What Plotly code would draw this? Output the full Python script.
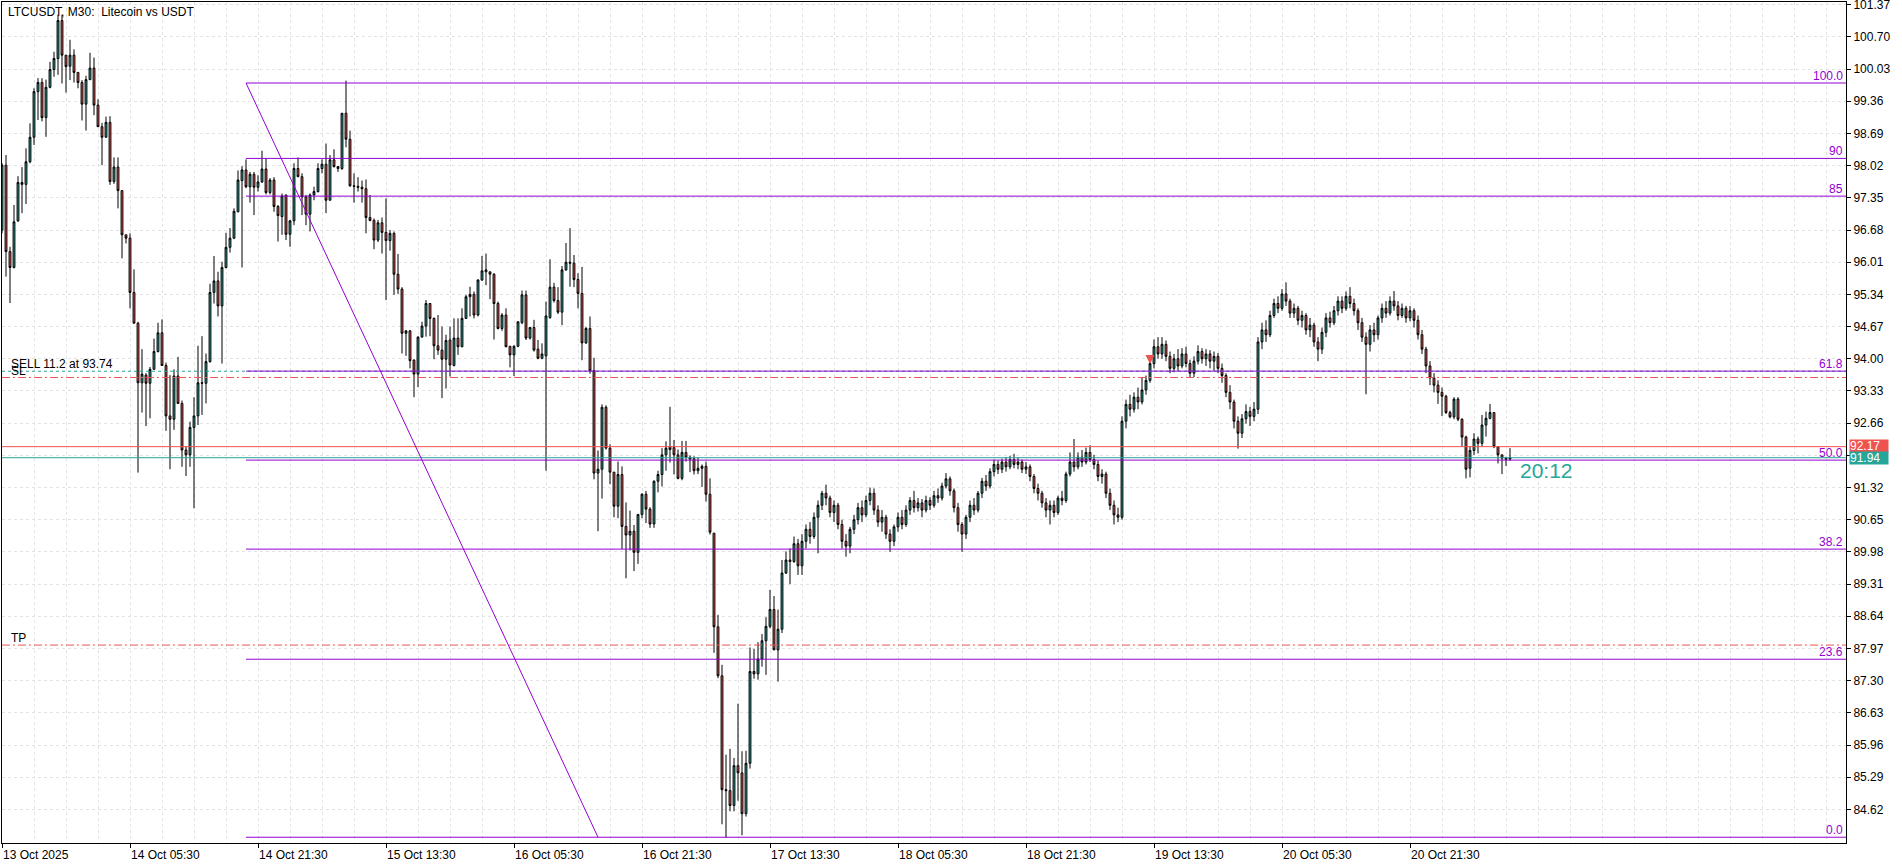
import plotly.graph_objects as go

# ---------------- data (M30 candles, bar index from 13 Oct 13:30) ----------------
opens = [96.68, 98.03, 96.23, 95.90, 96.87, 97.67, 97.63, 98.10, 98.61, 99.56,
         99.75, 99.02, 99.65, 100.02, 100.25, 101.04, 100.32, 100.09, 100.32, 99.96,
         99.75, 99.30, 99.81, 100.05, 99.28, 98.83, 98.61, 98.92, 97.69, 97.99,
         97.50, 96.58, 96.51, 95.38, 94.74, 93.50, 93.66, 93.49, 93.78, 94.15,
         94.54, 93.86, 92.81, 92.74, 93.64, 93.07, 92.10, 92.00, 92.57, 92.81,
         93.50, 93.49, 93.94, 95.38, 95.62, 95.10, 95.90, 96.32, 96.51, 97.06,
         97.71, 97.93, 97.58, 97.84, 97.57, 97.68, 97.95, 97.46, 97.72, 97.17,
         96.96, 97.41, 96.59, 96.87, 97.96, 97.79, 97.37, 97.01, 97.41, 97.48,
         97.96, 98.05, 97.30, 98.14, 98.00, 97.96, 99.11, 98.57, 97.60, 97.59,
         97.57, 97.54, 96.94, 96.88, 96.47, 96.83, 96.63, 96.46, 96.61, 95.76,
         95.45, 94.53, 94.58, 93.97, 93.68, 94.45, 94.68, 95.15, 94.84, 94.27,
         94.18, 93.99, 94.39, 93.86, 94.43, 94.25, 94.84, 95.29, 95.34, 94.91,
         95.64, 95.85, 95.81, 95.76, 95.15, 94.63, 94.91, 94.26, 94.08, 94.26,
         94.75, 95.33, 94.43, 94.65, 94.20, 94.01, 94.06, 94.86, 95.49, 95.21,
         94.97, 95.85, 96.01, 95.99, 95.65, 95.36, 94.33, 94.63, 93.75, 91.62,
         91.70, 92.99, 92.14, 91.64, 90.93, 91.59, 90.51, 90.33, 90.41, 89.97,
         90.76, 91.18, 90.87, 90.56, 91.45, 91.59, 92.00, 92.17, 92.15, 92.00,
         91.51, 92.05, 91.95, 91.92, 91.67, 91.72, 91.76, 91.18, 90.37, 88.42,
         87.40, 85.03, 85.01, 84.70, 85.53, 85.38, 84.53, 85.58, 87.49, 87.44,
         87.75, 88.13, 88.43, 88.78, 87.94, 88.37, 89.54, 89.81, 89.78, 90.15,
         89.69, 90.20, 90.45, 90.30, 90.70, 90.95, 91.20, 91.10, 90.80, 90.95,
         90.55, 90.20, 90.10, 90.45, 90.65, 90.90, 90.75, 91.05, 91.20, 90.85,
         90.60, 90.70, 90.35, 90.20, 90.50, 90.70, 90.55, 90.85, 91.05, 90.90,
         91.00, 90.85, 91.05, 90.95, 91.15, 91.10, 91.35, 91.50, 91.25, 90.90,
         90.55, 90.35, 90.70, 90.95, 90.85, 91.20, 91.45, 91.35, 91.65, 91.80,
         91.70, 91.85, 91.75, 91.90, 91.80, 91.85, 91.70, 91.75, 91.55, 91.30,
         91.20, 91.00, 90.85, 90.95, 90.80, 91.10, 91.05, 91.60, 91.85, 91.75,
         91.95, 91.85, 92.05, 91.90, 91.80, 91.55, 91.60, 91.20, 90.95, 90.75,
         90.70, 92.70, 93.05, 92.95, 93.20, 93.10, 93.35, 93.55, 93.90, 94.25,
         94.10, 94.30, 94.05, 93.80, 94.00, 93.85, 94.10, 93.90, 93.70, 93.95,
         94.15, 94.00, 94.10, 93.95, 94.05, 93.80, 93.65, 93.30, 93.10, 92.70,
         92.45, 92.75, 92.90, 92.80, 92.95, 94.35, 94.60, 94.50, 94.90, 95.15,
         95.05, 95.35, 95.20, 94.95, 95.05, 94.80, 94.90, 94.60, 94.70, 94.35,
         94.20, 94.55, 94.85, 94.75, 95.00, 95.20, 95.05, 95.30, 95.15, 95.00,
         94.75, 94.45, 94.30, 94.60, 94.50, 94.85, 95.05, 94.95, 95.20, 95.10,
         94.90, 95.05, 94.85, 95.00, 94.80, 94.50, 94.20, 93.85, 93.60, 93.45,
         93.30, 93.22, 92.88, 92.79, 93.16, 92.74, 92.37, 91.72, 92.09, 92.33,
         92.24, 92.62, 92.76, 92.88, 92.17, 92.00, 91.93, 91.91]

highs = [98.07, 98.24, 96.33, 97.20, 97.80, 97.99, 98.38, 98.90, 99.63, 99.84,
         99.84, 99.81, 100.18, 100.39, 101.16, 101.16, 100.32, 100.64, 100.44, 99.96,
         99.80, 99.89, 100.37, 100.27, 99.40, 98.91, 99.04, 99.05, 98.19, 98.19,
         97.50, 96.58, 96.61, 95.86, 94.77, 94.20, 93.70, 93.83, 94.42, 94.75,
         94.82, 93.92, 93.66, 93.78, 94.04, 93.13, 92.17, 92.69, 93.20, 94.27,
         94.47, 94.11, 95.56, 96.14, 95.81, 96.02, 96.62, 96.72, 97.13, 97.92,
         98.01, 98.15, 97.89, 97.89, 97.82, 98.33, 98.17, 97.76, 97.78, 97.20,
         97.44, 97.41, 96.89, 98.07, 98.19, 97.86, 97.41, 97.44, 97.58, 98.07,
         98.15, 98.48, 98.24, 98.36, 98.01, 99.11, 99.79, 98.75, 97.86, 97.78,
         97.71, 97.73, 97.41, 96.92, 96.89, 96.94, 97.34, 96.68, 96.65, 96.18,
         95.49, 94.60, 94.60, 93.99, 94.47, 94.77, 95.22, 95.15, 94.86, 94.91,
         94.67, 94.50, 94.67, 94.84, 94.84, 95.05, 95.33, 95.50, 95.40, 95.65,
         96.14, 96.19, 95.81, 95.78, 95.19, 94.95, 95.05, 94.26, 94.28, 94.77,
         95.42, 95.42, 94.65, 94.81, 94.39, 94.32, 95.19, 96.07, 95.58, 95.49,
         95.93, 96.41, 96.72, 96.16, 95.78, 95.91, 94.66, 94.88, 94.02, 92.09,
         93.05, 93.03, 92.22, 91.64, 91.86, 91.76, 91.01, 90.84, 90.54, 90.76,
         91.20, 91.25, 90.91, 91.47, 91.67, 92.14, 92.28, 93.00, 92.31, 92.11,
         92.29, 92.29, 91.99, 91.97, 91.95, 91.80, 91.86, 91.51, 90.37, 88.67,
         87.63, 85.76, 85.88, 85.69, 86.82, 85.83, 85.84, 87.99, 87.96, 88.10,
         88.27, 88.62, 89.19, 89.06, 88.78, 89.81, 89.99, 90.05, 90.30, 90.25,
         90.35, 90.55, 90.60, 90.80, 91.05, 91.25, 91.38, 91.15, 91.05, 91.00,
         90.65, 90.35, 90.50, 90.75, 91.00, 91.05, 91.15, 91.32, 91.30, 90.95,
         90.85, 90.75, 90.45, 90.55, 90.80, 90.85, 90.95, 91.12, 91.25, 91.10,
         91.08, 91.15, 91.12, 91.25, 91.30, 91.42, 91.62, 91.55, 91.30, 91.00,
         90.60, 90.75, 91.05, 91.10, 91.25, 91.52, 91.58, 91.72, 91.90, 91.88,
         91.92, 91.95, 91.98, 92.02, 91.95, 91.90, 91.85, 91.80, 91.60, 91.40,
         91.25, 91.10, 91.05, 91.05, 91.15, 91.25, 91.65, 92.05, 92.33, 92.05,
         92.10, 92.15, 92.20, 92.00, 91.88, 91.70, 91.65, 91.30, 91.05, 90.90,
         92.80, 93.15, 93.25, 93.30, 93.40, 93.60, 93.65, 94.00, 94.40, 94.45,
         94.45, 94.38, 94.15, 94.10, 94.20, 94.22, 94.25, 93.98, 94.05, 94.28,
         94.22, 94.20, 94.18, 94.15, 94.12, 93.90, 93.70, 93.45, 93.15, 92.80,
         92.85, 93.05, 93.00, 93.10, 94.45, 94.75, 94.80, 95.00, 95.25, 95.30,
         95.45, 95.59, 95.25, 95.15, 95.10, 95.00, 94.95, 94.85, 94.75, 94.45,
         94.65, 94.95, 94.98, 95.10, 95.30, 95.30, 95.40, 95.49, 95.25, 95.05,
         94.85, 94.55, 94.70, 94.75, 94.90, 95.15, 95.20, 95.30, 95.41, 95.20,
         95.15, 95.10, 95.10, 95.05, 94.90, 94.60, 94.25, 93.95, 93.70, 93.55,
         93.40, 93.25, 92.92, 93.20, 93.20, 92.76, 92.40, 92.17, 92.45, 92.38,
         92.83, 92.90, 93.06, 92.88, 92.17, 92.00, 91.96, 92.14]

lows = [96.61, 95.71, 95.16, 95.88, 96.85, 97.03, 97.22, 98.07, 98.45, 98.97,
        98.94, 98.62, 99.63, 99.87, 99.91, 99.73, 99.54, 99.80, 99.75, 99.63,
        98.96, 98.75, 99.80, 99.07, 98.83, 98.03, 98.61, 97.62, 97.64, 97.13,
        96.09, 96.40, 95.05, 94.74, 91.63, 92.88, 92.60, 92.76, 93.78, 94.13,
        93.86, 92.50, 91.70, 92.52, 93.06, 91.75, 91.56, 91.75, 90.89, 92.62,
        92.83, 93.07, 93.92, 95.15, 94.88, 93.90, 95.88, 96.21, 96.49, 97.05,
        95.90, 97.55, 97.25, 96.99, 97.48, 97.66, 97.42, 97.42, 97.06, 96.44,
        96.58, 96.47, 96.33, 96.78, 97.78, 96.99, 96.78, 96.65, 97.30, 97.46,
        97.86, 97.03, 97.30, 97.98, 97.89, 97.93, 98.40, 97.58, 97.25, 97.48,
        97.25, 96.61, 96.86, 96.28, 96.43, 96.19, 95.22, 96.25, 95.33, 95.35,
        94.11, 94.06, 93.80, 93.20, 93.41, 94.45, 94.46, 94.47, 93.99, 94.08,
        93.18, 93.38, 93.63, 93.84, 94.08, 94.24, 94.83, 94.88, 94.84, 94.88,
        95.62, 95.53, 95.24, 94.40, 94.61, 94.58, 94.24, 93.82, 93.64, 94.24,
        94.72, 94.39, 94.40, 94.15, 93.99, 93.99, 91.67, 94.83, 95.17, 94.93,
        94.70, 95.83, 95.50, 95.49, 95.05, 93.97, 94.31, 93.69, 91.49, 90.41,
        91.09, 92.11, 91.39, 90.70, 90.68, 90.04, 89.43, 90.01, 89.58, 89.73,
        90.68, 90.58, 90.48, 90.48, 91.22, 91.34, 91.67, 91.84, 91.59, 91.49,
        91.47, 91.86, 91.64, 91.59, 91.60, 91.33, 91.03, 90.34, 87.88, 87.35,
        84.31, 84.03, 84.58, 84.58, 84.80, 84.08, 84.47, 85.47, 87.34, 87.32,
        87.59, 87.42, 88.39, 87.94, 87.28, 88.29, 89.52, 89.31, 89.75, 89.50,
        89.50, 90.05, 90.15, 90.25, 89.95, 90.85, 90.95, 90.70, 90.60, 90.45,
        90.05, 89.88, 89.95, 90.35, 90.55, 90.60, 90.70, 90.95, 90.75, 90.50,
        90.40, 90.25, 89.98, 90.10, 90.40, 90.45, 90.50, 90.75, 90.80, 90.82,
        90.70, 90.80, 90.85, 90.90, 91.00, 91.05, 91.30, 91.15, 90.80, 90.40,
        89.98, 90.25, 90.60, 90.75, 90.80, 91.10, 91.25, 91.30, 91.55, 91.60,
        91.62, 91.65, 91.70, 91.72, 91.70, 91.62, 91.60, 91.45, 91.20, 91.05,
        90.90, 90.70, 90.55, 90.70, 90.75, 90.95, 91.00, 91.55, 91.65, 91.70,
        91.75, 91.80, 91.85, 91.70, 91.45, 91.40, 91.10, 90.85, 90.55, 90.60,
        90.65, 92.55, 92.80, 92.88, 92.95, 93.05, 93.25, 93.50, 93.80, 94.00,
        94.00, 93.95, 93.70, 93.72, 93.75, 93.80, 93.82, 93.60, 93.62, 93.88,
        93.90, 93.85, 93.80, 93.75, 93.70, 93.50, 93.20, 92.95, 92.55, 92.13,
        92.35, 92.65, 92.60, 92.70, 92.85, 94.20, 94.35, 94.45, 94.85, 94.95,
        95.00, 95.10, 94.85, 94.85, 94.70, 94.65, 94.50, 94.45, 94.25, 93.95,
        94.10, 94.45, 94.65, 94.70, 94.90, 94.95, 95.00, 95.05, 94.90, 94.60,
        94.35, 93.26, 94.15, 94.35, 94.40, 94.75, 94.85, 94.90, 95.00, 94.80,
        94.85, 94.75, 94.78, 94.65, 94.40, 94.10, 93.70, 93.45, 93.30, 93.06,
        92.81, 92.85, 92.76, 92.74, 92.70, 92.17, 91.51, 91.53, 92.00, 92.03,
        92.17, 92.38, 92.74, 92.14, 91.82, 91.60, 91.77, 91.88]

closes = [98.03, 96.23, 95.90, 96.85, 97.67, 97.63, 98.10, 98.61, 99.56, 99.75,
          99.02, 99.65, 100.02, 100.25, 101.04, 100.32, 100.08, 100.32, 99.96, 99.75,
          99.30, 99.81, 100.05, 99.28, 98.83, 98.61, 98.92, 97.69, 97.99, 97.50,
          96.58, 96.51, 95.38, 94.74, 93.50, 93.68, 93.49, 93.78, 94.15, 94.54,
          93.86, 92.81, 92.74, 93.64, 93.07, 92.10, 92.00, 92.57, 92.81, 93.50,
          93.49, 93.94, 95.38, 95.62, 95.10, 95.90, 96.32, 96.51, 97.07, 97.72,
          97.93, 97.58, 97.84, 97.57, 97.68, 97.95, 97.46, 97.72, 97.17, 96.98,
          97.39, 96.59, 96.87, 97.96, 97.79, 97.37, 97.01, 97.41, 97.48, 97.96,
          98.05, 97.30, 98.14, 98.00, 97.96, 99.11, 98.57, 97.60, 97.59, 97.57,
          97.54, 96.94, 96.88, 96.47, 96.83, 96.63, 96.46, 96.61, 95.76, 95.45,
          94.53, 94.58, 93.96, 93.68, 94.45, 94.68, 95.15, 94.84, 94.27, 94.18,
          93.99, 94.38, 93.87, 94.43, 94.25, 94.84, 95.29, 95.34, 94.91, 95.64,
          95.83, 95.81, 95.76, 95.15, 94.63, 94.91, 94.25, 94.08, 94.26, 94.77,
          95.33, 94.43, 94.65, 94.18, 94.01, 94.10, 94.89, 95.49, 95.21, 94.97,
          95.85, 96.01, 95.99, 95.65, 95.36, 94.33, 94.63, 93.75, 91.62, 91.70,
          92.99, 92.14, 91.64, 90.93, 91.59, 90.51, 90.33, 90.41, 89.97, 90.76,
          91.18, 90.87, 90.56, 91.45, 91.59, 92.00, 92.14, 92.11, 92.00, 91.51,
          92.05, 91.95, 91.91, 91.67, 91.72, 91.76, 91.18, 90.39, 88.42, 87.40,
          85.03, 85.01, 84.70, 85.53, 85.38, 84.53, 85.58, 87.49, 87.44, 87.75,
          88.13, 88.43, 88.78, 87.94, 88.37, 89.54, 89.81, 89.78, 90.15, 89.69,
          90.20, 90.45, 90.30, 90.70, 90.95, 91.20, 91.10, 90.80, 90.95, 90.55,
          90.20, 90.10, 90.45, 90.65, 90.90, 90.75, 91.05, 91.20, 90.85, 90.60,
          90.70, 90.35, 90.20, 90.50, 90.70, 90.55, 90.85, 91.05, 90.90, 91.00,
          90.85, 91.05, 90.95, 91.15, 91.10, 91.35, 91.50, 91.25, 90.90, 90.55,
          90.35, 90.70, 90.95, 90.85, 91.20, 91.45, 91.35, 91.65, 91.80, 91.70,
          91.85, 91.75, 91.90, 91.80, 91.85, 91.70, 91.75, 91.55, 91.30, 91.20,
          91.00, 90.85, 90.95, 90.80, 91.10, 91.05, 91.60, 91.85, 91.75, 91.95,
          91.85, 92.05, 91.90, 91.80, 91.55, 91.60, 91.20, 90.95, 90.75, 90.70,
          92.70, 93.05, 92.95, 93.20, 93.10, 93.35, 93.55, 93.90, 94.25, 94.10,
          94.30, 94.05, 93.80, 94.00, 93.85, 94.10, 93.90, 93.70, 93.95, 94.15,
          94.00, 94.10, 93.95, 94.05, 93.80, 93.65, 93.30, 93.10, 92.70, 92.45,
          92.75, 92.90, 92.80, 92.95, 94.35, 94.60, 94.50, 94.90, 95.15, 95.05,
          95.35, 95.20, 94.95, 95.05, 94.80, 94.90, 94.60, 94.70, 94.35, 94.20,
          94.55, 94.85, 94.75, 95.00, 95.20, 95.05, 95.30, 95.15, 95.00, 94.75,
          94.45, 94.30, 94.60, 94.50, 94.85, 95.05, 94.95, 95.20, 95.10, 94.90,
          95.05, 94.85, 95.00, 94.80, 94.50, 94.20, 93.85, 93.60, 93.45, 93.30,
          93.22, 92.88, 92.79, 93.16, 92.74, 92.37, 91.70, 92.09, 92.33, 92.24,
          92.62, 92.76, 92.88, 92.17, 92.00, 91.93, 91.91, 91.94]

tick_bars = [0, 32, 64, 96, 128, 160, 192, 224, 256, 288, 320, 352]
tick_labels = ["13 Oct 2025", "14 Oct 05:30", "14 Oct 21:30", "15 Oct 13:30",
               "16 Oct 05:30", "16 Oct 21:30", "17 Oct 13:30", "18 Oct 05:30",
               "18 Oct 21:30", "19 Oct 13:30", "20 Oct 05:30", "20 Oct 21:30"]

price_ticks = [84.62, 85.29, 85.96, 86.63, 87.30, 87.97, 88.64, 89.31, 89.98, 90.65,
               91.32, 91.99, 92.66, 93.33, 94.00, 94.67, 95.34, 96.01, 96.68, 97.35,
               98.02, 98.69, 99.36, 100.03, 100.70, 101.37]

fib_levels = [0.0, 23.6, 38.2, 50.0, 61.8, 85.0, 90.0, 100.0]
fib_labels = ["0.0", "23.6", "38.2", "50.0", "61.8", "85", "90", "100.0"]
fib_high = 99.74
fib_low = 84.04
fib_start_bar = 61
fib_end_bar = 149

ask_price = 92.17
bid_price = 91.94
sell_price = 93.74
sl_price = 93.61
tp_price = 88.04
entry_bar = 287
entry_mark = 93.89
countdown = "20:12"
countdown_bar = 379
countdown_price = 91.68

x_max = 461
y_min, y_max = 83.92, 101.426

# ---------------- styling ----------------
TEAL = "#26a69a"
RED = "#ef5350"
PURPLE = "#9400d3"
GRID = "#e3e3e3"
FONT = "Liberation Sans"

n = min(len(opens), len(highs), len(lows), len(closes))
bars = list(range(n))

fig = go.Figure()
fig.add_trace(go.Candlestick(
    x=bars, open=opens[:n], high=highs[:n], low=lows[:n], close=closes[:n],
    increasing=dict(fillcolor=TEAL, line=dict(color="black", width=1)),
    decreasing=dict(fillcolor=RED, line=dict(color="black", width=1)),
    whiskerwidth=0, hoverinfo="skip", showlegend=False,
))
fig.add_trace(go.Scatter(
    x=[entry_bar], y=[entry_mark], mode="markers", hoverinfo="skip", showlegend=False,
    marker=dict(symbol="arrow-down", size=9, color=RED, line=dict(width=0)),
))

shapes = []
shapes.append(dict(type="line", xref="paper", x0=0, x1=1, yref="y", y0=ask_price, y1=ask_price,
                   line=dict(color=RED, width=1)))
shapes.append(dict(type="line", xref="paper", x0=0, x1=1, yref="y", y0=bid_price, y1=bid_price,
                   line=dict(color=TEAL, width=1)))
shapes.append(dict(type="line", xref="paper", x0=0, x1=1, yref="y", y0=sell_price, y1=sell_price,
                   line=dict(color=TEAL, width=1, dash="3px,3px")))
shapes.append(dict(type="line", xref="paper", x0=0, x1=1, yref="y", y0=sl_price, y1=sl_price,
                   line=dict(color=RED, width=1, dash="8px,3px,2px,3px")))
shapes.append(dict(type="line", xref="paper", x0=0, x1=1, yref="y", y0=tp_price, y1=tp_price,
                   line=dict(color=RED, width=1, dash="8px,3px,2px,3px")))

fib_prices = [fib_low + lv / 100.0 * (fib_high - fib_low) for lv in fib_levels]
for p in fib_prices:
    shapes.append(dict(type="line", xref="x", x0=fib_start_bar, x1=x_max, yref="y", y0=p, y1=p,
                       line=dict(color=PURPLE, width=1)))
shapes.append(dict(type="line", xref="x", x0=fib_start_bar, x1=fib_end_bar, yref="y",
                   y0=fib_high, y1=fib_low, line=dict(color=PURPLE, width=1)))

annotations = []
for b, lab in zip(tick_bars, tick_labels):
    annotations.append(dict(x=b, xref="x", y=0, yref="paper", text=lab, showarrow=False,
                            xanchor="left", yanchor="top", yshift=-3, xshift=-1,
                            font=dict(family=FONT, size=12, color="black")))
for p, lab in zip(fib_prices, fib_labels):
    annotations.append(dict(x=1, xref="paper", y=p, yref="y", text=lab, showarrow=False,
                            xanchor="right", yanchor="bottom", xshift=-1, yshift=-2,
                            font=dict(family=FONT, size=12, color=PURPLE)))
annotations.append(dict(x=0, xref="paper", y=1, yref="paper", text="LTCUSDT, M30:  Litecoin vs USDT",
                        showarrow=False, xanchor="left", yanchor="top", xshift=4, yshift=-1,
                        font=dict(family=FONT, size=12, color="black")))
annotations.append(dict(x=0, xref="paper", y=sell_price, yref="y", text="SELL 11.2 at 93.74",
                        showarrow=False, xanchor="left", yanchor="bottom", xshift=7, yshift=-2,
                        font=dict(family=FONT, size=12, color="black")))
annotations.append(dict(x=0, xref="paper", y=sl_price, yref="y", text="SL",
                        showarrow=False, xanchor="left", yanchor="bottom", xshift=7, yshift=-3,
                        font=dict(family=FONT, size=12, color="black")))
annotations.append(dict(x=0, xref="paper", y=tp_price, yref="y", text="TP",
                        showarrow=False, xanchor="left", yanchor="bottom", xshift=7, yshift=-2,
                        font=dict(family=FONT, size=12, color="black")))
annotations.append(dict(x=countdown_bar, xref="x", y=countdown_price, yref="y", text=countdown,
                        showarrow=False, xanchor="left", yanchor="middle",
                        font=dict(family=FONT, size=21, color=TEAL)))
annotations.append(dict(x=1, xref="paper", y=ask_price, yref="y", text=f"{ask_price:.2f}",
                        showarrow=False, xanchor="left", yanchor="middle", xshift=3, yshift=1,
                        bgcolor=RED, width=38, height=12, borderpad=0, align="left",
                        font=dict(family=FONT, size=12, color="white")))
annotations.append(dict(x=1, xref="paper", y=bid_price, yref="y", text=f"{bid_price:.2f}",
                        showarrow=False, xanchor="left", yanchor="middle", xshift=3,
                        bgcolor=TEAL, width=38, height=12, borderpad=0, align="left",
                        font=dict(family=FONT, size=12, color="white")))

fig.update_layout(
    width=1902, height=867, autosize=False,
    margin=dict(l=2, r=56, t=2, b=24, pad=0),
    paper_bgcolor="white", plot_bgcolor="white",
    showlegend=False, boxgap=0.35, hovermode=False,
    shapes=shapes, annotations=annotations,
    xaxis=dict(
        range=[0, x_max], rangeslider=dict(visible=False), fixedrange=True, automargin=False,
        tickmode="array", tickvals=tick_bars, showticklabels=False,
        ticks="outside", ticklen=4, tickcolor="black", tickwidth=1,
        showline=True, linecolor="black", linewidth=1, mirror=True,
        showgrid=True, gridcolor=GRID, griddash="3px,3px", gridwidth=1,
        minor=dict(tickmode="linear", tick0=0, dtick=8, showgrid=True,
                   gridcolor=GRID, griddash="3px,3px", gridwidth=1, ticks=""),
        zeroline=False,
    ),
    yaxis=dict(
        range=[y_min, y_max], side="right", fixedrange=True, automargin=False,
        tickmode="array", tickvals=price_ticks, ticktext=[f"{v:.2f}" for v in price_ticks],
        ticks="outside", ticklen=4, tickcolor="black", tickwidth=1,
        tickfont=dict(family=FONT, size=12, color="black"), ticklabeloverflow="allow",
        showline=True, linecolor="black", linewidth=1, mirror=True,
        showgrid=True, gridcolor=GRID, griddash="3px,3px", gridwidth=1,
        zeroline=False,
    ),
)

fig.write_html("out.html", config={"displayModeBar": False, "staticPlot": True},
               post_script="document.body.style.margin='0';document.body.style.overflow='hidden';")
